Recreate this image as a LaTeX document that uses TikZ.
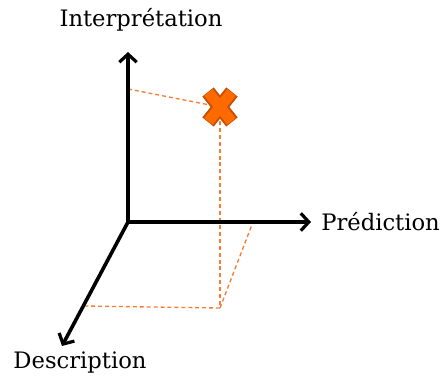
\documentclass[tikz,border=0pt]{standalone}
\usepackage{fontspec}
\setmainfont{DejaVu Serif}
\usetikzlibrary{arrows.meta,calc}
\definecolor{dashorange}{RGB}{245,125,55}
\definecolor{crossfill}{RGB}{255,106,0}
\definecolor{crossedge}{RGB}{200,80,0}
\tikzset{
  axis/.style={line width=2.7pt, -{Straight Barb[length=6pt,width=13pt,line width=2.4pt]}},
  guide/.style={dashorange, line width=1pt, dash pattern=on 3pt off 2.2pt},
  axislabel/.style={font=\fontsize{17}{20}\selectfont, inner sep=0pt}
}
\begin{document}
\begin{tikzpicture}[x=0.75pt,y=-0.75pt]
\useasboundingbox (0,0) rectangle (442,377);
% points:
\coordinate (O) at (128,222);
\coordinate (top) at (128,52);
\coordinate (right) at (311,222);
\coordinate (bottom) at (62,346);
\coordinate (A) at (128,89);
\coordinate (B) at (253,222);
\coordinate (C) at (83,306);
\coordinate (P) at (220,107);
\coordinate (F) at (220,308);
% projections:
\draw[guide] (A) -- (P);
\draw[guide] (P) -- (F);
\draw[guide] (F) -- (B);
\draw[guide] (F) -- (C);
% axes:
\draw[axis] (O) -- (top);
\draw[axis] (O) -- (right);
\draw[axis] (O) -- (bottom);
% the cross:
\draw[crossedge, line width=11pt] ($(P)+(-12,-15)$) -- ($(P)+(12,15)$) ($(P)+(12,-15)$) -- ($(P)+(-12,15)$);
\draw[crossfill, line width=8pt] ($(P)+(-11.5,-14.5)$) -- ($(P)+(11.5,14.5)$) ($(P)+(11.5,-14.5)$) -- ($(P)+(-11.5,14.5)$);
% labels:
\node[axislabel, anchor=base] (interp) at (141,27) {Interprétation};
\node[axislabel, anchor=base west] (pred) at (321,231) {Prédiction};
\node[axislabel, anchor=base] (desc) at (80,368) {Description};
\end{tikzpicture}
\end{document}
